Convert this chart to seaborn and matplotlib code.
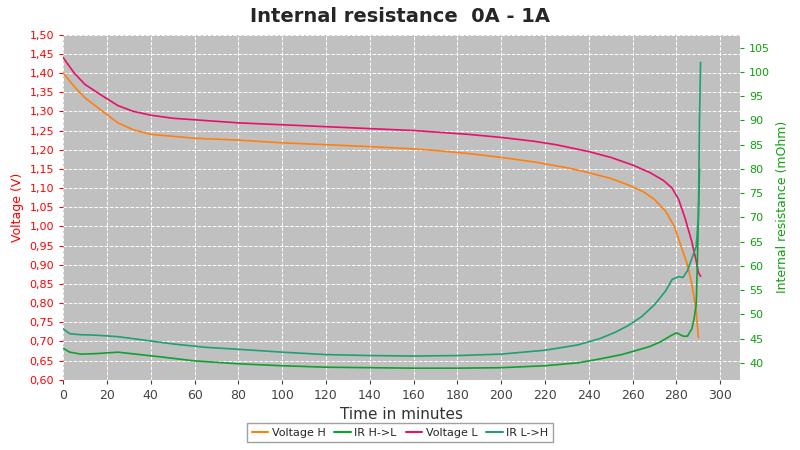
import matplotlib
matplotlib.use("Agg")
import matplotlib.pyplot as plt
import seaborn as sns
import pandas as pd

t_vh = [0, 5, 10, 18, 25, 32, 40, 50, 60, 80, 100, 120, 140, 160, 170, 185, 200, 215, 230, 240, 250, 258, 265, 270, 275, 279, 282, 285, 287, 289, 290]
v_h = [1.40, 1.365, 1.335, 1.30, 1.27, 1.252, 1.24, 1.235, 1.23, 1.225, 1.218, 1.213, 1.208, 1.202, 1.198, 1.19, 1.18, 1.168, 1.153, 1.14, 1.125, 1.108, 1.09, 1.07, 1.04, 1.0, 0.95, 0.9, 0.85, 0.78, 0.71]
t_vl = [0, 5, 10, 18, 25, 32, 40, 50, 60, 80, 100, 120, 140, 160, 170, 185, 200, 215, 225, 240, 250, 260, 268, 274, 278, 281, 284, 287, 289, 290, 291]
v_l = [1.44, 1.40, 1.37, 1.34, 1.315, 1.30, 1.29, 1.282, 1.278, 1.27, 1.265, 1.26, 1.255, 1.25, 1.246, 1.24, 1.232, 1.222, 1.213, 1.195, 1.18, 1.16, 1.14, 1.12, 1.10, 1.07, 1.02, 0.96, 0.91, 0.88, 0.87]
t_ir = [0, 3, 8, 15, 25, 35, 45, 60, 80, 100, 120, 140, 160, 180, 200, 220, 235, 245, 255, 262, 268, 273, 277, 280, 283, 285, 287, 288, 289, 289.5, 290, 290.5]
ir_hl = [43, 42.2, 41.8, 41.9, 42.2, 41.7, 41.2, 40.4, 39.8, 39.4, 39.1, 39.0, 38.9, 38.9, 39.0, 39.4, 40.0, 40.8, 41.7, 42.6, 43.4, 44.4, 45.5, 46.2, 45.5, 45.5, 47, 49, 52, 60, 70, 80]
t_ir2 = [0, 3, 8, 15, 25, 35, 50, 65, 80, 100, 120, 140, 160, 180, 200, 220, 235, 245, 252, 258, 264, 270, 275, 278, 281, 283, 285, 287, 289, 290, 290.5, 291]
ir_lh = [47, 46, 45.8, 45.7, 45.4, 44.8, 43.9, 43.2, 42.8, 42.2, 41.7, 41.5, 41.4, 41.5, 41.8, 42.6, 43.7, 45.0, 46.3, 47.7, 49.5, 52, 54.8, 57.2, 57.8, 57.6, 59, 61.5, 64, 70, 90, 102]

sns.set_style("white")
plt.rcParams['font.family'] = ['DejaVu Sans']
fig = plt.figure(figsize=(8, 4.5), dpi=100)
ax = fig.add_axes([0.079, 0.156, 0.846, 0.767])
ax.set_facecolor("#C0C0C0")
ax2 = ax.twinx()

c_vh, c_vl, c_hl, c_lh = "#FF8010", "#E8106A", "#10A030", "#20A070"
sns.lineplot(x=t_vh, y=v_h, ax=ax, color=c_vh, lw=1.2)
sns.lineplot(x=t_vl, y=v_l, ax=ax, color=c_vl, lw=1.2)
sns.lineplot(x=t_ir, y=ir_hl, ax=ax2, color=c_hl, lw=1.2)
sns.lineplot(x=t_ir2, y=ir_lh, ax=ax2, color=c_lh, lw=1.2)

ax.set_xlim(0, 309)
ax.set_ylim(0.60, 1.50)
ax2.set_ylim(36.5, 107.7)
ax.set_xticks(range(0, 301, 20))
ax.set_yticks([0.60 + 0.05 * i for i in range(19)])
ax.set_yticklabels([f"{0.60 + 0.05 * i:.2f}".replace(".", ",") for i in range(19)])
ax2.set_yticks(range(40, 106, 5))
ax.grid(True, color="white", ls="--", lw=0.7)
for a in (ax, ax2):
    for s in a.spines.values():
        s.set_visible(False)
ax.tick_params(axis="y", colors="red", labelsize=8, length=3, left=True)
ax.tick_params(axis="x", labelsize=9, colors="#444444", length=3, bottom=True)
ax2.tick_params(axis="y", colors="#10A010", labelsize=8, length=3, right=True)
ax.set_xlabel("Time in minutes", fontsize=11, color="#333333")
ax.set_ylabel("Voltage (V)", color="red", fontsize=9)
ax2.set_ylabel("Internal resistance (mOhm)", color="#10A010", fontsize=9)
fig.suptitle("Internal resistance  0A - 1A", fontsize=14, fontweight="bold", y=0.985, x=0.5)

from matplotlib.lines import Line2D
handles = [Line2D([], [], color=c) for c in (c_vh, c_hl, c_vl, c_lh)]
fig.legend(handles, ["Voltage H", "IR H->L", "Voltage L", "IR L->H"], loc="lower center",
           ncol=4, bbox_to_anchor=(0.5, 0.005), fontsize=8, frameon=True, fancybox=False,
           edgecolor="#888888", handlelength=1.5, columnspacing=0.8, handletextpad=0.3)
fig.savefig("out.png")
